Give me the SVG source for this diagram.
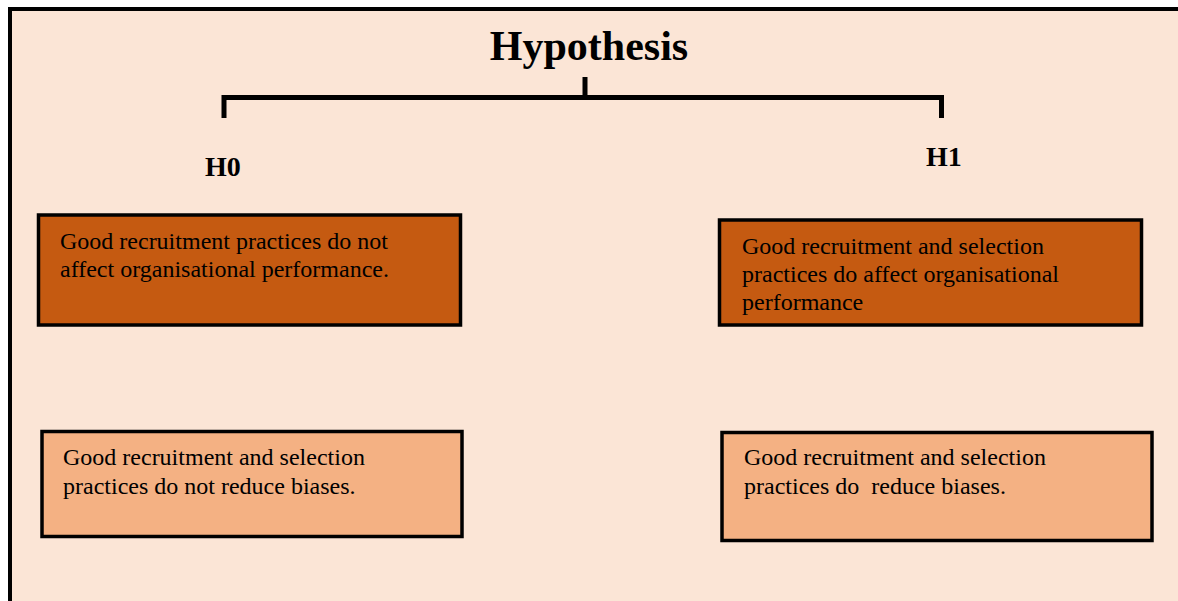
<svg xmlns="http://www.w3.org/2000/svg" width="1178" height="601" viewBox="0 0 1178 601">
<style>
  .box { stroke: #000; stroke-width: 3.5; }
  .dark { fill: #C55A11; }
  .light { fill: #F4B183; }
  .txt { font-family: "Liberation Serif", "Times New Roman", serif; font-size: 24px; fill: #000; }
  .lbl { font-family: "Liberation Serif", "Times New Roman", serif; font-size: 28px; font-weight: bold; fill: #000; }
  .title { font-family: "Liberation Serif", "Times New Roman", serif; font-size: 42px; font-weight: bold; fill: #000; }
  .conn { fill: none; stroke: #000; stroke-width: 5; }
</style>
<rect x="0" y="0" width="1178" height="601" fill="#FFFFFF"/>
<rect x="10" y="9" width="1200" height="620" fill="#FBE5D6" stroke="#000" stroke-width="4"/>
<text class="title" x="589" y="60" text-anchor="middle">Hypothesis</text>
<g id="connectors">
  <path class="conn" d="M224,118 V97.5 H941.5 V118"/>
  <path class="conn" d="M585,77 V97.5"/>
</g>
<g id="h0-label"><text class="lbl" x="205" y="176">H0</text></g>
<g id="h1-label"><text class="lbl" x="926" y="166">H1</text></g>
<g id="h0-box1">
  <rect class="box dark" x="38.5" y="215" width="422" height="110"/>
  <text class="txt" x="60" y="249">Good recruitment practices do not</text>
  <text class="txt" x="60" y="277">affect organisational performance.</text>
</g>
<g id="h1-box1">
  <rect class="box dark" x="719.5" y="220" width="422" height="105"/>
  <text class="txt" x="742" y="254">Good recruitment and selection</text>
  <text class="txt" x="742" y="282">practices do affect organisational</text>
  <text class="txt" x="742" y="310">performance</text>
</g>
<g id="h0-box2">
  <rect class="box light" x="42" y="431.5" width="420" height="105"/>
  <text class="txt" x="63" y="465">Good recruitment and selection</text>
  <text class="txt" x="63" y="494">practices do not reduce biases.</text>
</g>
<g id="h1-box2">
  <rect class="box light" x="722" y="432.5" width="430" height="108"/>
  <text class="txt" x="744" y="465">Good recruitment and selection</text>
  <text class="txt" x="744" y="494" xml:space="preserve">practices do  reduce biases.</text>
</g>
</svg>
